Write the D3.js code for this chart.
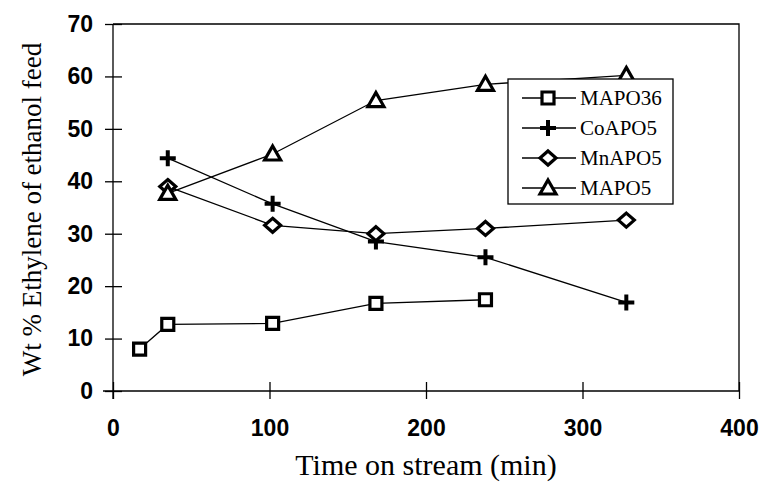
<!DOCTYPE html>
<html>
<head>
<meta charset="utf-8">
<script src="https://d3js.org/d3.v7.min.js"></script>
<style>
    body {margin: 0; background: #fff;}
    .serif {font-family: "Liberation Serif", "Times New Roman", serif; fill: #000;}
</style>
</head>
<body>
<script>

    // data
    var seriesNames = ["MAPO36", "CoAPO5", "MnAPO5", "MAPO5"];
    var mapo36Time = [17, 35, 102, 168, 238],
        mapo36Val = [8.0, 12.7, 12.9, 16.7, 17.4];
    var coapo5Time = [35, 102, 168, 238, 328],
        coapo5Val = [44.4, 35.7, 28.5, 25.5, 16.9];
    var mnapo5Time = [35, 102, 168, 238, 328],
        mnapo5Val = [39.0, 31.6, 30.0, 31.0, 32.6];
    var mapo5Time = [35, 102, 168, 238, 328],
        mapo5Val = [37.7, 45.2, 55.4, 58.5, 60.2];
    var xTicks = [0, 100, 200, 300, 400],
        yTicks = [0, 10, 20, 30, 40, 50, 60, 70];

    var series = [
        { name: seriesNames[0], shape: "square", t: mapo36Time, v: mapo36Val },
        { name: seriesNames[1], shape: "plus", t: coapo5Time, v: coapo5Val },
        { name: seriesNames[2], shape: "diamond", t: mnapo5Time, v: mnapo5Val },
        { name: seriesNames[3], shape: "triangle", t: mapo5Time, v: mapo5Val }
    ];

    var W = 765, H = 487;
    var margin = { top: 24, right: 26, bottom: 96, left: 113 },
        width = W - margin.left - margin.right,
        height = H - margin.top - margin.bottom;

    var x = d3.scaleLinear().domain([0, 400]).range([0, width]);
    var y = d3.scaleLinear().domain([0, 70]).range([height, 0]);

    var svg = d3.select("body").append("svg")
        .attr("width", W)
        .attr("height", H);

    var g = svg.append("g")
        .attr("transform", "translate(" + margin.left + "," + margin.top + ")");

    // frame: top and right lines
    g.append("path")
        .attr("d", "M" + x(0) + "," + y(70) + "H" + x(400) + "V" + y(0))
        .attr("fill", "none").attr("stroke", "#000").attr("stroke-width", 1.3);

    // axes with ticks crossing the line
    var xAxis = g.append("g")
        .attr("transform", "translate(0," + height + ")")
        .call(d3.axisBottom(x).tickValues(xTicks).tickSize(8).tickPadding(21).tickSizeOuter(0));
    xAxis.selectAll(".tick line").attr("y1", -9).attr("y2", 8);
    xAxis.select(".domain").attr("d", "M" + (x(0) - 10) + ",0H" + x(400));

    var yAxis = g.append("g")
        .call(d3.axisLeft(y).tickValues(yTicks).tickSize(8).tickPadding(12).tickSizeOuter(0));
    yAxis.selectAll(".tick line").attr("x1", -8).attr("x2", 9);
    yAxis.select(".domain").attr("d", "M0," + y(70) + "V" + (height + 8));

    g.selectAll(".domain, .tick line").attr("stroke", "#000").attr("stroke-width", 1.3);
    g.selectAll(".tick text")
        .attr("fill", "#000")
        .style("font-family", "'Liberation Sans', Arial, sans-serif")
        .style("font-weight", "bold")
        .style("font-size", "23px");

    // marker paths
    function marker(shape) {
        if (shape == "square") return "M-6,-6H6V6H-6Z";
        if (shape == "plus") return "M-8,0H8M0,-8V8";
        if (shape == "diamond") return "M0,-7L8,0L0,7L-8,0Z";
        return "M0,-8L8,6H-8Z";
    }

    var line = d3.line()
        .x(function (d) { return x(d[0]); })
        .y(function (d) { return y(d[1]); });

    series.forEach(function (s) {
        var pts = s.t.map(function (t, i) { return [t, s.v[i]]; });
        var sg = g.append("g");
        sg.append("path")
            .attr("d", line(pts))
            .attr("fill", "none").attr("stroke", "#000").attr("stroke-width", 1.3);
        sg.selectAll("path.m")
            .data(pts)
            .enter().append("path")
            .attr("class", "m")
            .attr("transform", function (d) { return "translate(" + x(d[0]) + "," + y(d[1]) + ")"; })
            .attr("d", marker(s.shape))
            .attr("fill", "#fff")
            .attr("stroke", "#000")
            .attr("stroke-width", s.shape == "plus" ? 4 : 3.2);
    });

    // legend
    var lg = svg.append("g").attr("transform", "translate(508,79)");
    lg.append("rect")
        .attr("width", 165).attr("height", 125)
        .attr("fill", "#fff").attr("stroke", "#000").attr("stroke-width", 1.3);
    var items = lg.selectAll("g.item")
        .data(series)
        .enter().append("g")
        .attr("class", "item")
        .attr("transform", function (d, i) { return "translate(0," + (19 + i * 30) + ")"; });
    items.append("line")
        .attr("x1", 14).attr("x2", 68)
        .attr("stroke", "#000").attr("stroke-width", 1.3);
    items.append("path")
        .attr("transform", "translate(40,0)")
        .attr("d", function (d) { return marker(d.shape); })
        .attr("fill", "#fff").attr("stroke", "#000")
        .attr("stroke-width", function (d) { return d.shape == "plus" ? 4 : 3.2; });
    items.append("text")
        .attr("class", "serif")
        .attr("x", 72).attr("y", 7)
        .style("font-size", "21px")
        .text(function (d) { return d.name; });

    // axis titles
    svg.append("text")
        .attr("class", "serif")
        .attr("x", margin.left + x(200)).attr("y", 475)
        .attr("text-anchor", "middle")
        .style("font-size", "30px")
        .text("Time on stream (min)");

    svg.append("text")
        .attr("class", "serif")
        .attr("transform", "translate(41," + (margin.top + y(35) + 2) + ") rotate(-90)")
        .attr("text-anchor", "middle")
        .style("font-size", "27px")
        .text("Wt % Ethylene of ethanol feed");

</script>
</body>
</html>
